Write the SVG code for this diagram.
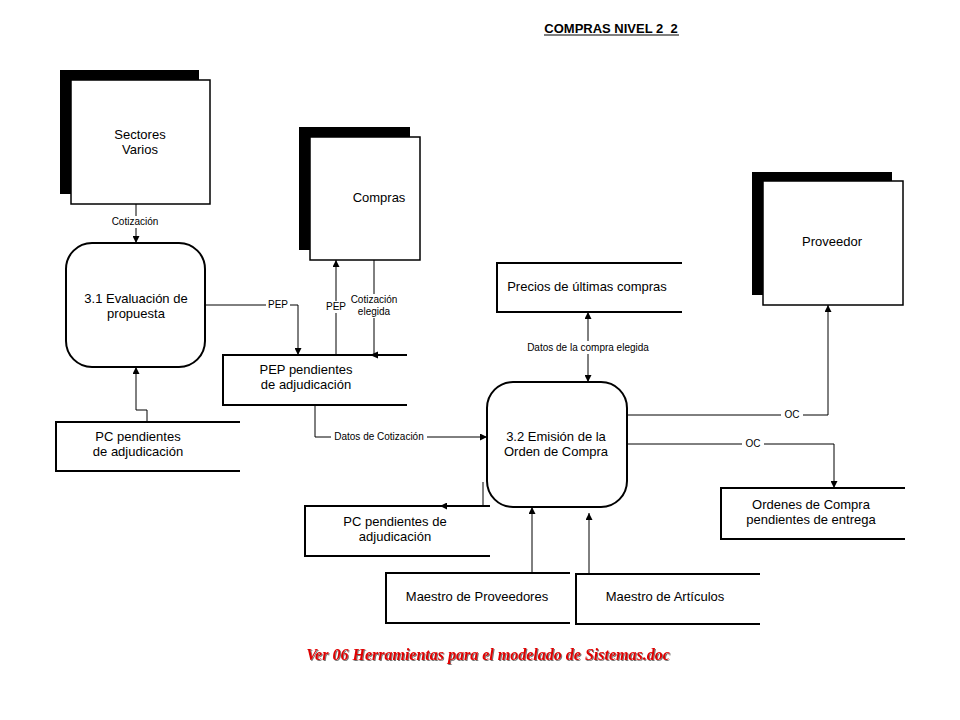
<svg xmlns="http://www.w3.org/2000/svg" width="960" height="720" viewBox="0 0 960 720">
<defs>
<marker id="arr" viewBox="0 0 10 10" refX="10" refY="5" markerWidth="7" markerHeight="7" orient="auto-start-reverse" markerUnits="userSpaceOnUse">
<path d="M0,0 L10,5 L0,10 z" fill="#000"/>
</marker>
<filter id="sh" x="-5%" y="-20%" width="110%" height="150%">
<feDropShadow dx="1" dy="1" stdDeviation="0.6" flood-color="#555" flood-opacity="0.8"/>
</filter>
</defs>
<style>
.t{font-family:"Liberation Sans",Arial,sans-serif;font-size:13px;fill:#000;text-anchor:middle}
.l{font-family:"Liberation Sans",Arial,sans-serif;font-size:10px;fill:#000;text-anchor:middle}
.shadow{fill:#000}
.ent{fill:#fff;stroke:#000;stroke-width:1.5}
.proc{fill:#fff;stroke:#000;stroke-width:2}
.st{fill:none;stroke:#000;stroke-width:2}
.c{fill:none;stroke:#000;stroke-width:1}
.bg{fill:#fff}
</style>
<rect width="960" height="720" fill="#fff"/>
<text x="611" y="33" font-family="Liberation Sans,Arial,sans-serif" font-size="13" font-weight="bold" text-anchor="middle" xml:space="preserve">COMPRAS NIVEL 2  2</text>
<line x1="544" y1="35" x2="679" y2="35" stroke="#000" stroke-width="1"/>

<g id="connectors">
<path class="c" d="M136,204 V243" marker-end="url(#arr)"/>
<path class="c" d="M205,305 H298 V355" marker-end="url(#arr)"/>
<path class="c" d="M336,355 V260" marker-end="url(#arr)"/>
<path class="c" d="M374,260 V355"/>
<path d="M370,355 L378,351.5 L378,358.5 z" fill="#000"/>
<path class="c" d="M315,405 V437 H487" marker-end="url(#arr)"/>
<path class="c" d="M147,422 V410 H136 V367" marker-end="url(#arr)"/>
<path class="c" d="M588,312 V382" marker-start="url(#arr)" marker-end="url(#arr)"/>
<path class="c" d="M627,415 H828 V305" marker-end="url(#arr)"/>
<path class="c" d="M627,444 H834 V488" marker-end="url(#arr)"/>
<path class="c" d="M483,482 V506 H440" marker-end="url(#arr)"/>
<path class="c" d="M532,573 V507" marker-end="url(#arr)"/>
<path class="c" d="M589,574 V513" marker-end="url(#arr)"/>
<rect class="bg" x="108" y="216" width="55" height="12"/>
<text class="l" x="135" y="225">Cotización</text>
<rect class="bg" x="266" y="299" width="24" height="12"/>
<text class="l" x="278" y="308">PEP</text>
<rect class="bg" x="325" y="301" width="22" height="12"/>
<text class="l" x="336" y="310">PEP</text>
<rect class="bg" x="348" y="294" width="52" height="24"/>
<text class="l" x="374" y="303">Cotización</text>
<text class="l" x="374" y="315">elegida</text>
<rect class="bg" x="331" y="431" width="96" height="12"/>
<text class="l" x="379" y="440">Datos de Cotización</text>
<rect class="bg" x="521" y="341" width="134" height="13"/>
<text class="l" x="588" y="351">Datos de la compra elegida</text>
<rect class="bg" x="781" y="409" width="22" height="12"/>
<text class="l" x="792" y="418">OC</text>
<rect class="bg" x="742" y="438" width="22" height="12"/>
<text class="l" x="753" y="447">OC</text>
</g>

<g id="sectores">
<rect class="shadow" x="60" y="70" width="139" height="124"/>
<rect class="ent" x="71" y="80" width="139" height="124"/>
<text class="t" x="140" y="139">Sectores</text>
<text class="t" x="140" y="154">Varios</text>
</g>

<g id="compras">
<rect class="shadow" x="299" y="127" width="111" height="123"/>
<rect class="ent" x="310" y="137" width="110" height="123"/>
<text class="t" x="379" y="202">Compras</text>
</g>

<g id="proveedor">
<rect class="shadow" x="752" y="172" width="140" height="123"/>
<rect class="ent" x="763" y="181" width="140" height="124"/>
<text class="t" x="832" y="246">Proveedor</text>
</g>

<g id="p31">
<rect class="proc" x="66" y="243" width="139" height="124" rx="26" ry="26"/>
<text class="t" x="136" y="303">3.1 Evaluación de</text>
<text class="t" x="136" y="318">propuesta</text>
</g>

<g id="p32">
<rect class="proc" x="487" y="382" width="140" height="125" rx="26" ry="26"/>
<text class="t" x="556" y="441">3.2 Emisión de la</text>
<text class="t" x="556" y="456">Orden de Compra</text>
</g>

<g id="pep_store">
<path class="st" d="M407,355 H223 V405 H407"/>
<text class="t" x="306" y="374">PEP pendientes</text>
<text class="t" x="306" y="389">de adjudicación</text>
</g>

<g id="pc_store1">
<path class="st" d="M240,422 H56 V471 H240"/>
<text class="t" x="138" y="441">PC pendientes</text>
<text class="t" x="138" y="456">de adjudicación</text>
</g>

<g id="precios">
<path class="st" d="M682,263 H497 V312 H682"/>
<text class="t" x="587" y="291">Precios de últimas compras</text>
</g>

<g id="ordenes">
<path class="st" d="M905,488 H721 V539 H905"/>
<text class="t" x="811" y="509">Ordenes de Compra</text>
<text class="t" x="811" y="524">pendientes de entrega</text>
</g>

<g id="pc_store2">
<path class="st" d="M490,506 H305 V556 H490"/>
<text class="t" x="395" y="526">PC pendientes de</text>
<text class="t" x="395" y="541">adjudicación</text>
</g>

<g id="maestro_prov">
<path class="st" d="M570,573 H386 V623 H570"/>
<text class="t" x="477" y="601">Maestro de Proveedores</text>
</g>

<g id="maestro_art">
<path class="st" d="M760,574 H576 V624 H760"/>
<text class="t" x="665" y="601">Maestro de Artículos</text>
</g>

<text x="488" y="660" font-family="Liberation Serif,'Times New Roman',serif" font-size="16" font-weight="bold" font-style="italic" fill="#e00000" text-anchor="middle" filter="url(#sh)">Ver 06 Herramientas para el modelado de Sistemas.doc</text>
</svg>
